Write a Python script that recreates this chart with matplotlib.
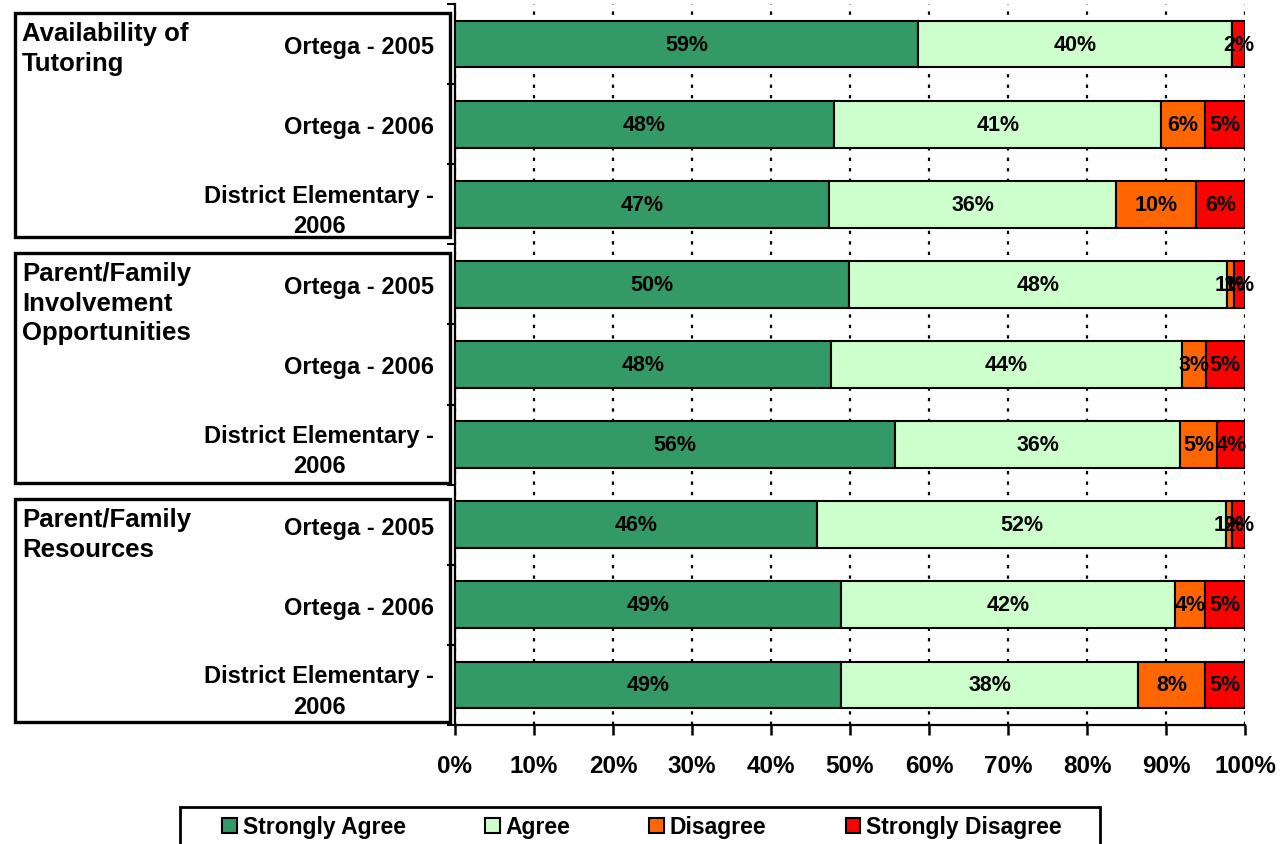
import matplotlib
matplotlib.use("Agg")
import matplotlib.pyplot as plt
from matplotlib.patches import Rectangle, Patch
from matplotlib.ticker import FuncFormatter

plt.rcParams['font.family'] = ['Liberation Sans', 'DejaVu Sans']
plt.rcParams['font.weight'] = 'bold'

# ---------------- data ----------------
categories = [
    "Ortega - 2005", "Ortega - 2006", "District Elementary -\n2006",
    "Ortega - 2005", "Ortega - 2006", "District Elementary -\n2006",
    "Ortega - 2005", "Ortega - 2006", "District Elementary -\n2006",
]
groups = ["Availability of\nTutoring",
          "Parent/Family\nInvolvement\nOpportunities",
          "Parent/Family\nResources"]
series_names = ["Strongly Agree", "Agree", "Disagree", "Strongly Disagree"]
strongly_agree = [58.7, 48.0, 47.4, 49.9, 47.6, 55.7, 45.9, 48.9, 48.9]
agree = [39.8, 41.4, 36.3, 47.8, 44.4, 36.1, 51.8, 42.3, 37.7]
disagree = [0.0, 5.5, 10.1, 0.9, 3.0, 4.6, 0.8, 3.8, 8.4]
strongly_disagree = [1.6, 5.1, 6.2, 1.4, 5.0, 3.6, 1.6, 5.1, 5.1]
x_ticks = [0, 10, 20, 30, 40, 50, 60, 70, 80, 90, 100]

colors = ["#339966", "#CCFFCC", "#FF6600", "#FF0000"]

W, H = 1287, 845
fig = plt.figure(figsize=(W / 100, H / 100), dpi=100)
ax = fig.add_axes([455 / W, 1 - 726 / H, (1245 - 455) / W, (726 - 5) / H])

series = [strongly_agree, agree, disagree, strongly_disagree]
totals = [sum(t) for t in zip(*series)]
ypos = list(range(len(categories)))
left = [0.0] * len(categories)
for name, vals, col in zip(series_names, series, colors):
    shares = [v / t * 100 for v, t in zip(vals, totals)]
    ax.barh(ypos, shares, left=left, height=0.585, color=col,
            edgecolor="black", linewidth=1.5, label=name, zorder=3)
    for y, l, s, v in zip(ypos, left, shares, vals):
        if v > 0:
            ax.text(l + s / 2, y, f"{round(v)}%", ha="center", va="center",
                    fontsize=15.5, fontweight="bold", color="black", zorder=4)
    left = [a + b for a, b in zip(left, shares)]

ax.set_xlim(0, 100)
ax.set_ylim(len(categories) - 0.5, -0.5)

# gridlines
ax.set_xticks(x_ticks)
ax.xaxis.set_major_formatter(FuncFormatter(lambda v, p: f"{int(v)}%"))
ax.grid(axis="x", color="black", linestyle=(0, (1.5, 3.2)), linewidth=1.6, zorder=0)
ax.set_axisbelow(True)

for s in ["top", "right"]:
    ax.spines[s].set_visible(False)
for s in ["left", "bottom"]:
    ax.spines[s].set_linewidth(1.6)

ax.tick_params(axis="x", direction="out", length=7, width=1.8, pad=14,
               labelsize=17.5)
for lab in ax.get_xticklabels():
    lab.set_fontweight("bold")

# y: category labels, boundary ticks
ax.set_yticks(ypos)
ax.set_yticklabels(categories)
ax.tick_params(axis="y", which="major", length=0, pad=15, labelsize=17)
for lab in ax.get_yticklabels():
    lab.set_fontweight("bold")
    lab.set_multialignment("center")
    lab.set_linespacing(1.4)
ax.set_yticks([i - 0.5 for i in range(len(categories) + 1)], minor=True)
ax.tick_params(axis="y", which="minor", direction="out", length=6, width=1.5)

# group boxes and labels (figure pixel coords)
boxes = [(15, 14, 450, 238), (15, 254, 450, 484), (15, 500, 450, 723)]
for (x0, y0, x1, y1), g in zip(boxes, groups):
    fig.patches.append(Rectangle((x0 / W, 1 - y1 / H), (x1 - x0) / W, (y1 - y0) / H,
                                 transform=fig.transFigure, fill=False,
                                 edgecolor="black", linewidth=2.4, zorder=1))
    fig.text(22 / W, 1 - (y0 + 8) / H, g, ha="left", va="top", fontsize=18.5,
             fontweight="bold", linespacing=1.3)

# legend
fig.patches.append(Rectangle((180 / W, 1 - 850 / H), (1100 - 180) / W, 42 / H,
                             transform=fig.transFigure, fill=False,
                             edgecolor="black", linewidth=2.0))
handles = [Patch(facecolor=c, edgecolor="black", linewidth=1.5) for c in colors]
leg = fig.legend(handles, series_names, loc="center left",
                 bbox_to_anchor=(222 / W, 1 - 828 / H), ncol=4, frameon=False,
                 fontsize=16.5, handlelength=0.65, handleheight=0.65,
                 handletextpad=0.25, columnspacing=3.45, borderpad=0,
                 borderaxespad=0)
for t in leg.get_texts():
    t.set_fontweight("bold")

fig.savefig("out.png", dpi=100)
